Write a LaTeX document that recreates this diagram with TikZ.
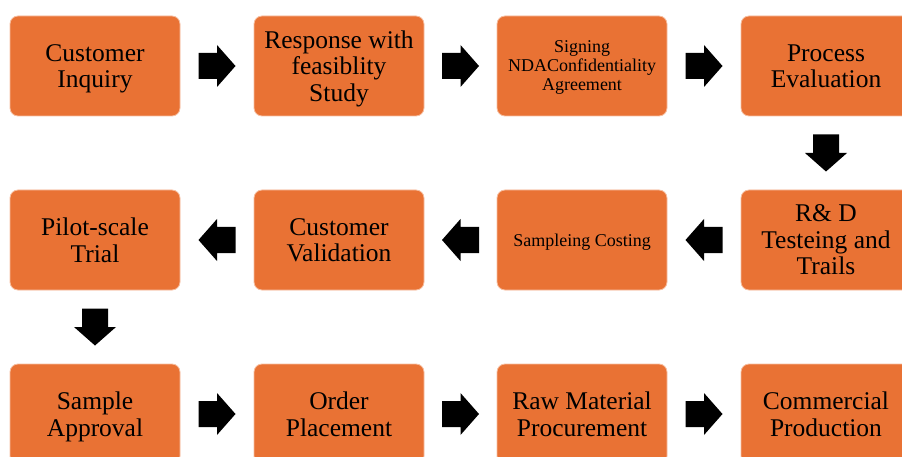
\documentclass[tikz,border=0pt]{standalone}
\usepackage{fontspec}
\setmainfont{Liberation Serif}
\usetikzlibrary{calc}
\definecolor{boxorange}{RGB}{233,114,52}
\definecolor{boxedge}{RGB}{246,190,160}
\tikzset{
  box/.style={rectangle, rounded corners=8pt, fill=boxorange, draw=boxedge, line width=0.8pt,
    minimum width=170pt, minimum height=100pt, align=center, inner sep=2pt, text depth=0pt,
    font=\fontsize{25.5}{26.5}\selectfont},
  smalltext/.style={font=\fontsize{18}{19}\selectfont},
  barrow/.pic={\fill[black] (-18.5,-13) -- (0,-13) -- (0,-21) -- (18.5,0) -- (0,21) -- (0,13) -- (-18.5,13) -- cycle;}
}
\begin{document}
\begin{tikzpicture}[x=1pt,y=-1pt]
\useasboundingbox (0,0) rectangle (902,457);
\clip (0,0) rectangle (902,457);
% row 1
\node[box] (a1) at (95,66) {Customer\\Inquiry};
\node[box] (a2) at (339,66) {Response with\\feasiblity\\Study};
\node[box,smalltext] (a3) at (582,66) {Signing\\NDAConfidentiality\\Agreement};
\node[box] (a4) at (826,66) {Process\\Evaluation};
% row 2
\node[box] (b4) at (826,240) {R\& D\\Testeing and\\Trails};
\node[box,smalltext] (b3) at (582,240) {Sampleing Costing};
\node[box] (b2) at (339,240) {Customer\\Validation};
\node[box] (b1) at (95,240) {Pilot-scale\\Trial};
% row 3
\node[box] (c1) at (95,414) {Sample\\Approval};
\node[box] (c2) at (339,414) {Order\\Placement};
\node[box] (c3) at (582,414) {Raw Material\\Procurement};
\node[box] (c4) at (826,414) {Commercial\\Production};
% connectors
\pic at ($(a1.east)!0.5!(a2.west)$) {barrow};
\pic at ($(a2.east)!0.5!(a3.west)$) {barrow};
\pic at ($(a3.east)!0.5!(a4.west)$) {barrow};
\pic[rotate=-90] at ($(a4.south)!0.5!(b4.north)$) {barrow};
\pic[rotate=180] at ($(b4.west)!0.5!(b3.east)$) {barrow};
\pic[rotate=180] at ($(b3.west)!0.5!(b2.east)$) {barrow};
\pic[rotate=180] at ($(b2.west)!0.5!(b1.east)$) {barrow};
\pic[rotate=-90] at ($(b1.south)!0.5!(c1.north)$) {barrow};
\pic at ($(c1.east)!0.5!(c2.west)$) {barrow};
\pic at ($(c2.east)!0.5!(c3.west)$) {barrow};
\pic at ($(c3.east)!0.5!(c4.west)$) {barrow};
\end{tikzpicture}
\end{document}
